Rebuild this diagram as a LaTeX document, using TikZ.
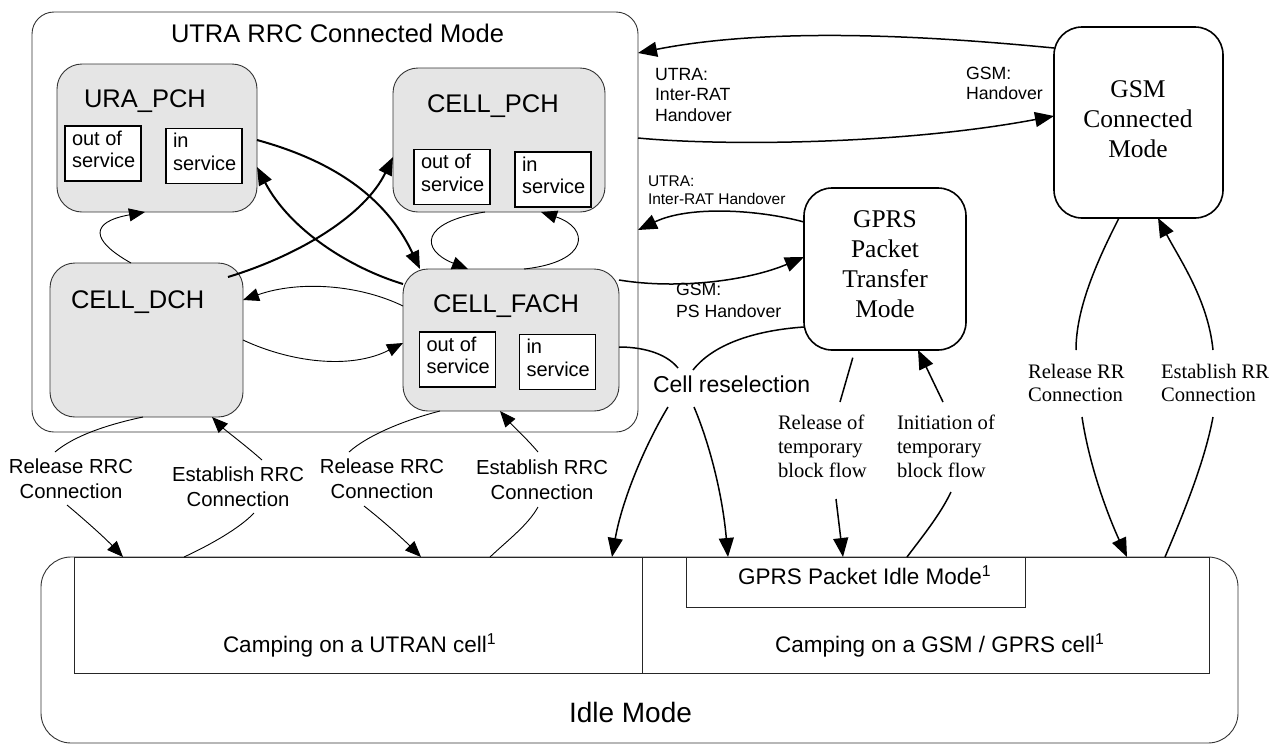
\documentclass[tikz,border=0pt]{standalone}
\usepackage{fontspec}
\setmainfont{Liberation Sans}
\newfontfamily\tnr{Liberation Serif}
\usetikzlibrary{arrows.meta}
\begin{document}
\begin{tikzpicture}[x=1pt,y=-1pt,
  every node/.style={inner sep=0pt, outer sep=0pt},
  container/.style={draw=black!80, line width=0.9pt, rounded corners=#1},
  statebox/.style={draw=black!80, line width=0.9pt, fill=black!10, rounded corners=25pt},
  subbox/.style={draw=black, line width=1.4pt, fill=white, minimum width=76pt, minimum height=55pt},
  gsmbox/.style={draw=black, line width=1.6pt, rounded corners=28pt},
  cellbox/.style={draw=black!85, line width=0.9pt},
  titletxt/.style={anchor=base west, font=\fontsize{25.5}{30}\selectfont},
  subtxt/.style={anchor=base west, align=left, font=\fontsize{20}{22.5}\selectfont},
  lbltxt/.style={anchor=base west, align=left, font=\fontsize{17.7}{20.7}\selectfont},
  smalllbl/.style={anchor=base west, align=left, font=\fontsize{15.5}{18}\selectfont},
  rrctxt/.style={anchor=base, align=center, font=\fontsize{20.3}{25}\selectfont},
  serifbig/.style={anchor=base, align=center, font=\tnr\fontsize{25.5}{30}\selectfont},
  seriflbl/.style={anchor=base west, align=left, font=\tnr\fontsize{20.6}{23.5}\selectfont},
  arrA/.style={line width=2pt, -{Triangle[length=18pt,width=14pt]}},
  arrB/.style={line width=0.9pt, -{Triangle[length=16pt,width=13pt]}},
  arrC/.style={line width=1.5pt, -{Triangle[length=19pt,width=15pt]}},
  thinl/.style={line width=0.9pt},
  medl/.style={line width=1.5pt}]
\useasboundingbox (0,0) rectangle (1277,745);

% note: a multi-line node's base anchor is the baseline of its LAST line

% ---------- containers and states ----------
\node[container=22pt, minimum width=606pt, minimum height=420pt] (utra) at (335,222) {};
\node[titletxt] (utratitle) at (171,42) {UTRA RRC Connected Mode};

\node[statebox, minimum width=200pt, minimum height=148pt] (ura) at (157,138) {};
\node[titletxt] (uratitle) at ([shift={(27,43)}]ura.north west) {URA\_PCH};
\node[subbox] (uraout) at (103,153.5) {};
\node[subbox] (urain) at (204,156) {};
\node[subtxt] (uraouttxt) at ([shift={(7,41.5)}]uraout.north west) {out of\\service};
\node[subtxt] (uraintxt) at ([shift={(7,41.5)}]urain.north west) {in\\service};

\node[statebox, minimum width=212pt, minimum height=144pt] (pch) at (499,140) {};
\node[titletxt] (pchtitle) at ([shift={(34,44)}]pch.north west) {CELL\_PCH};
\node[subbox] (pchout) at (452,177) {};
\node[subbox] (pchin) at (553,179.5) {};
\node[subtxt] (pchouttxt) at ([shift={(7,41.5)}]pchout.north west) {out of\\service};
\node[subtxt] (pchintxt) at ([shift={(7,41.5)}]pchin.north west) {in\\service};

\node[statebox, minimum width=193pt, minimum height=154pt] (dch) at (146.5,340) {};
\node[titletxt] (dchtitle) at ([shift={(21,45)}]dch.north west) {CELL\_DCH};

\node[statebox, minimum width=216pt, minimum height=142pt] (fach) at (511,340) {};
\node[titletxt] (fachtitle) at ([shift={(30,43)}]fach.north west) {CELL\_FACH};
\node[subbox] (fachout) at (457.5,359.5) {};
\node[subbox] (fachin) at (557.5,362) {};
\node[subtxt] (fachouttxt) at ([shift={(7,41.5)}]fachout.north west) {out of\\service};
\node[subtxt] (fachintxt) at ([shift={(7,41.5)}]fachin.north west) {in\\service};

\node[gsmbox, minimum width=169pt, minimum height=191pt] (gsm) at (1138.5,122.5) {};
\node[serifbig] (gsmtxt) at (1138,157) {GSM\\Connected\\Mode};

\node[gsmbox, minimum width=162pt, minimum height=162pt] (gprs) at (885,269) {};
\node[serifbig, font=\tnr\fontsize{25.5}{29.7}\selectfont] (gprstxt) at (885,317) {GPRS\\Packet\\Transfer\\Mode};

% ---------- idle mode ----------
\node[container=30pt, minimum width=1197pt, minimum height=186pt] (idle) at (639.5,650) {};
\node[cellbox, minimum width=568pt, minimum height=116pt] (utrancell) at (358,615) {};
\node[cellbox, minimum width=567pt, minimum height=116pt] (gsmcell) at (925.5,615) {};
\node[cellbox, minimum width=339pt, minimum height=50pt] (gprsidle) at (855.5,582) {};
\node[anchor=base west, font=\fontsize{22.5}{26}\selectfont] (gprsidletxt) at (738,584) {GPRS Packet Idle Mode\textsuperscript{1}};
\node[anchor=base west, font=\fontsize{22.5}{26}\selectfont] (utrancelltxt) at (223,652) {Camping on a UTRAN cell\textsuperscript{1}};
\node[anchor=base west, font=\fontsize{22.5}{26}\selectfont] (gsmcelltxt) at (775,652) {Camping on a GSM / GPRS cell\textsuperscript{1}};
\node[anchor=base west, font=\fontsize{28}{32}\selectfont] (idletxt) at (569,722) {Idle Mode};

% ---------- labels ----------
\node[lbltxt] (l1) at (655,121.4) {UTRA:\\Inter-RAT\\Handover};
\node[lbltxt] (l2) at (966,99.7) {GSM:\\Handover};
\node[smalllbl] (l3) at (648,204) {UTRA:\\Inter-RAT Handover};
\node[lbltxt, font=\fontsize{17.7}{22}\selectfont] (l4) at (676,317) {GSM:\\PS Handover};
\node[anchor=base west, font=\fontsize{23}{27}\selectfont] (cellsel) at (653,392) {Cell reselection};
\node[rrctxt] (rel1) at (71,498) {Release RRC\\Connection};
\node[rrctxt] (est1) at (238,506) {Establish RRC\\Connection};
\node[rrctxt] (rel2) at (382,498) {Release RRC\\Connection};
\node[rrctxt] (est2) at (542,499) {Establish RRC\\Connection};
\node[seriflbl, font=\tnr\fontsize{20.6}{24}\selectfont] (reltbf) at (778,477) {Release of\\temporary\\block flow};
\node[seriflbl, font=\tnr\fontsize{20.6}{24}\selectfont] (inittbf) at (897,477) {Initiation of\\temporary\\block flow};
\node[seriflbl] (relrr) at (1028,401.5) {Release RR\\Connection};
\node[seriflbl] (estrr) at (1161,401.5) {Establish RR\\Connection};

% ---------- transitions inside UTRA RRC connected mode ----------
\draw[arrA] (ura.east |- 0,140) .. controls (330,160) and (385,195) .. (420,0 |- fach.north);
\draw[arrA] (fach.west |- 0,284) .. controls (350,268) and (290,230) .. (ura.east |- 0,167);
\draw[arrA] ([shift={(-15,14)}]dch.north east) .. controls (300,255) and (365,215) .. (pch.west |- 0,157);
\draw[arrB] (131,0 |- dch.north) .. controls (90,240) and (90,222) .. (145,0 |- ura.south);
\draw[arrB] (485,0 |- pch.south) .. controls (420,222) and (420,250) .. (468,0 |- fach.north);
\draw[arrB] (524,0 |- fach.north) .. controls (590,262) and (590,228) .. (541,0 |- pch.south);
\draw[arrB] (fach.west |- 0,306) .. controls (360,285) and (300,280) .. (dch.east |- 0,300);
\draw[arrB] (dch.east |- 0,340) .. controls (290,362) and (350,370) .. (fach.west |- 0,343);

% ---------- inter-RAT handovers ----------
\draw[arrC] (gsm.west |- 0,48) .. controls (950,38) and (780,25) .. (utra.east |- 0,53);
\draw[arrC] (utra.east |- 0,138) .. controls (720,146) and (900,145) .. (gsm.west |- 0,116);
\draw[arrC] (gprs.west |- 0,222) .. controls (760,210) and (690,205) .. (utra.east |- 0,230);
\draw[arrC] (fach.east |- 0,280) .. controls (680,290) and (750,280) .. (gprs.west |- 0,257);

% ---------- RRC connection release / establishment ----------
\coordinate (r1a) at (55,452); \coordinate (r1b) at (67,505);
\draw[thinl] (143,0 |- dch.south) .. controls (110,424) and (75,435) .. (r1a);
\draw[arrB] (r1b) .. controls (85,520) and (105,538) .. (123,0 |- idle.north);
\coordinate (e1a) at (254,513); \coordinate (e1b) at (262,460);
\draw[thinl] (184,0 |- idle.north) .. controls (210,545) and (240,528) .. (e1a);
\draw[arrB] (e1b) .. controls (245,445) and (225,430) .. (212,0 |- dch.south);
\coordinate (r2a) at (349,452); \coordinate (r2b) at (364,506);
\draw[thinl] (440,0 |- fach.south) .. controls (405,420) and (368,435) .. (r2a);
\draw[arrB] (r2b) .. controls (382,520) and (402,538) .. (421,0 |- idle.north);
\coordinate (e2a) at (538,507); \coordinate (e2b) at (538,452);
\draw[thinl] (490,0 |- idle.north) .. controls (508,540) and (528,525) .. (e2a);
\draw[arrB] (e2b) .. controls (528,440) and (512,425) .. (500,0 |- fach.south);

% ---------- cell reselection ----------
\coordinate (c1a) at (678,368); \coordinate (c1b) at (694,407);
\draw[medl] (fach.east |- 0,347) .. controls (640,347) and (665,352) .. (c1a);
\draw[arrC] (c1b) .. controls (708,440) and (722,490) .. (728,0 |- idle.north);
\coordinate (c2a) at (693,370); \coordinate (c2b) at (668,407);
\draw[medl] (gprs.west |- 0,327) .. controls (760,330) and (715,342) .. (c2a);
\draw[arrC] (c2b) .. controls (645,445) and (622,500) .. (612,0 |- idle.north);

% ---------- temporary block flow ----------
\coordinate (t1a) at (840,402); \coordinate (t1b) at (836,499);
\draw[medl, shorten <=8pt] (855,0 |- gprs.south) -- (t1a);
\draw[arrC] (t1b) -- (843,0 |- idle.north);
\coordinate (t2a) at (951,492); \coordinate (t2b) at (943,402);
\draw[medl] (907,0 |- idle.north) .. controls (922,537) and (940,515) .. (t2a);
\draw[arrC] (t2b) -- (918,0 |- gprs.south);

% ---------- RR connection ----------
\coordinate (g1a) at (1076,350); \coordinate (g1b) at (1082,417);
\draw[medl] (1119,0 |- gsm.south) .. controls (1095,265) and (1076,310) .. (g1a);
\draw[arrC] (g1b) .. controls (1090,470) and (1110,520) .. (1127,0 |- idle.north);
\coordinate (g2a) at (1213,417); \coordinate (g2b) at (1213,350);
\draw[medl] (1165,0 |- idle.north) .. controls (1185,510) and (1205,460) .. (g2a);
\draw[arrC] (g2b) .. controls (1208,300) and (1180,260) .. (1158,0 |- gsm.south);
\end{tikzpicture}
\end{document}
